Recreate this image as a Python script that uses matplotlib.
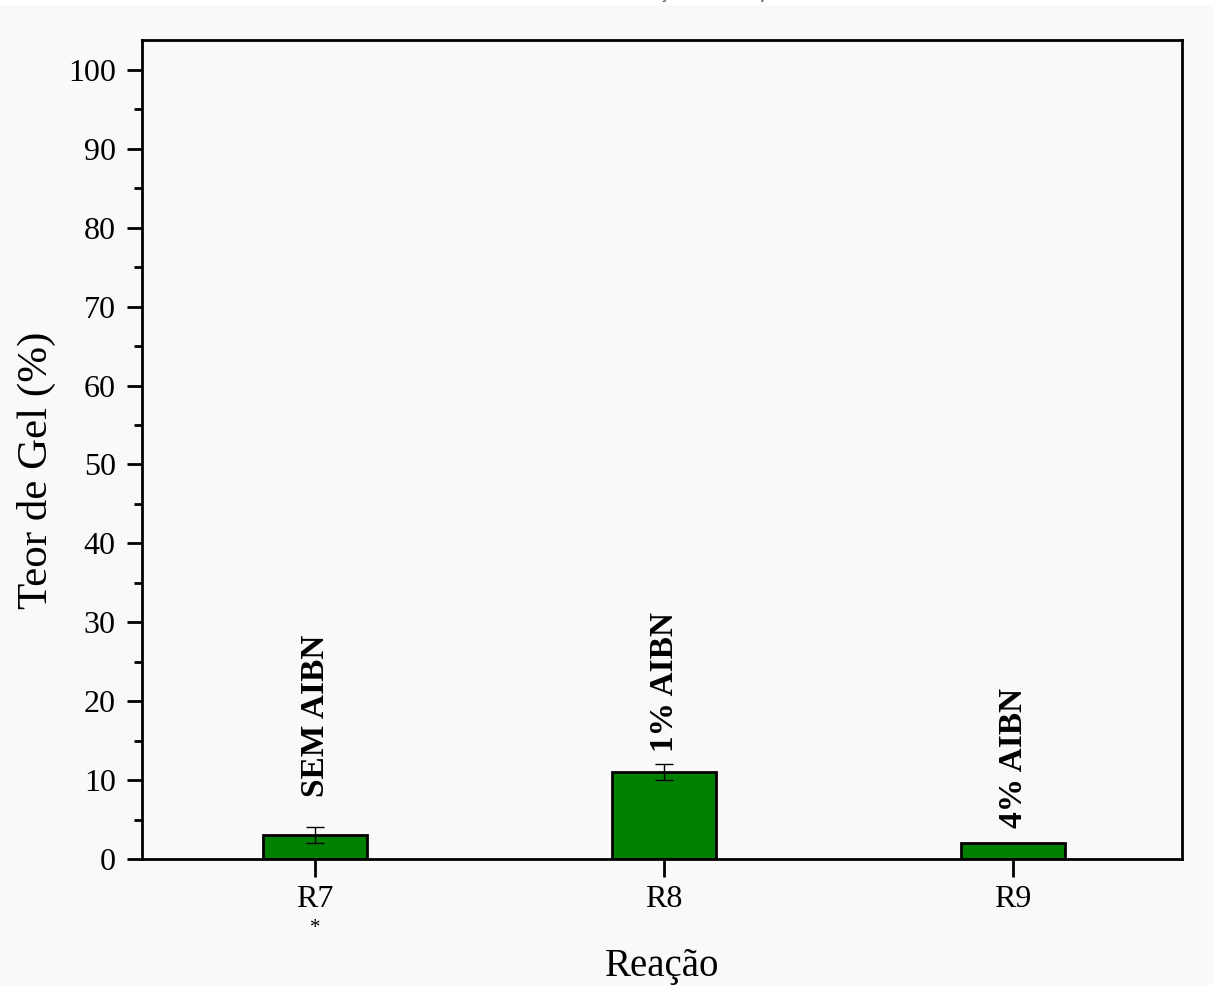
import matplotlib.pyplot as plt
from matplotlib.patches import Rectangle

# dados
reacoes = ["R7", "R8", "R9"]
teor_gel = [3.0, 11.0, 2.0]
erro = [1.0, 1.0, 0.0]
rotulos = ["SEM AIBN", "1% AIBN", "4% AIBN"]
rotulo_y = [7.9, 13.6, 3.9]
titulo = "*Pontos com as médias de reações em duplicata"

plt.rcParams["font.family"] = ["Liberation Serif", "DejaVu Serif"]

fig = plt.figure(figsize=(12.14, 9.85), dpi=100, facecolor="#f9f9f9")
ax = fig.add_axes([0.117, 0.1279, 0.8566, 0.8315])
ax.set_facecolor("#f9f9f9")

# faixa branca no topo + titulo cortado
fig.patches.append(Rectangle((0, 0.995), 1, 0.005, transform=fig.transFigure,
                             facecolor="white", edgecolor="none"))
fig.text(0.498, 0.9975, titulo, ha="center", va="bottom", fontsize=14,
         family="Liberation Sans", color="#555555")

pos = list(range(1, len(reacoes) + 1))
ax.bar(pos, teor_gel, width=0.3, color="#008000", edgecolor="black", linewidth=2, zorder=2)
for x, v, e in zip(pos, teor_gel, erro):
    if e > 0:
        ax.errorbar(x, v, yerr=e, fmt="none", ecolor="black", elinewidth=1,
                    capsize=6.5, capthick=1, zorder=3)

for x, y, txt in zip(pos, rotulo_y, rotulos):
    ax.text(x, y, txt, rotation=90, ha="center", va="bottom",
            fontsize=24, fontweight="bold")

ax.set_xlim(0.504, 3.484)
ax.set_ylim(0, 103.8)
ax.set_xticks(pos)
ax.set_xticklabels(reacoes)
ax.set_yticks(range(0, 101, 10))
ax.set_yticks(range(5, 101, 10), minor=True)

ax.tick_params(axis="both", which="major", direction="out", length=11, width=2,
               labelsize=23, pad=8)
ax.tick_params(axis="y", which="minor", direction="out", length=6, width=2)
ax.tick_params(axis="x", which="major", length=13, pad=6)
for s in ax.spines.values():
    s.set_linewidth(2)

ax.set_xlabel("Reação", fontsize=28, labelpad=24)
ax.set_ylabel("Teor de Gel (%)", fontsize=31)
ax.yaxis.set_label_coords(-0.083, 0.474)

# asterisco sob R7
ax.annotate("*", xy=(pos[0], 0), xycoords="data", xytext=(0, -50),
            textcoords="offset points", ha="center", va="center", fontsize=15)

plt.savefig("out.png", dpi=100, facecolor=fig.get_facecolor())
